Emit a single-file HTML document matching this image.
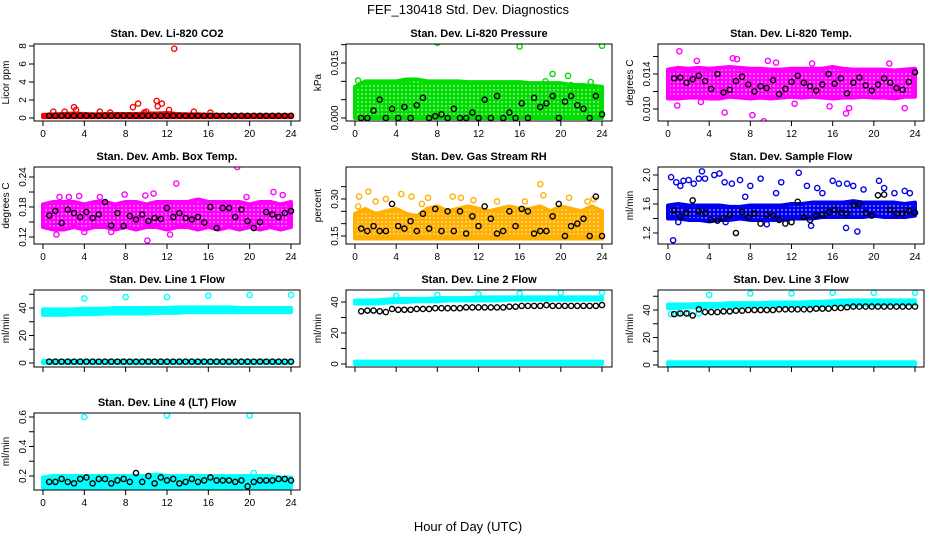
<!DOCTYPE html>
<html><head><meta charset="utf-8"><style>
body{margin:0;background:#fff}
svg{display:block;font-family:"Liberation Sans",Arial,sans-serif}
</style></head><body>
<svg id="chart" width="936" height="540" viewBox="0 0 936 540">
<text x="468" y="14" text-anchor="middle" font-size="13">FEF_130418  Std. Dev. Diagnostics</text>
<text x="468" y="531" text-anchor="middle" font-size="13">Hour of Day (UTC)</text>
</svg>
<script>
const hours=[0,1,2,3,4,5,6,7,8,9,10,11,12,13,14,15,16,17,18,19,20,21,22,23,24];
const blackX=[0.6,1.2,1.8,2.4,3.0,3.6,4.2,4.8,5.4,6.0,6.6,7.2,7.8,8.4,9.0,9.6,10.2,10.8,11.4,12.0,12.6,13.2,13.8,14.4,15.0,15.6,16.2,16.8,17.4,18.0,18.6,19.2,19.8,20.4,21.0,21.6,22.2,22.8,23.4,24.0];
const xTicks=[0,4,8,12,16,20,24];

const co2Lo=[0.1,0.1,0.1,0.1,0.1,0.1,0.1,0.1,0.1,0.1,0.1,0.1,0.1,0.1,0.1,0.1,0.1,0.1,0.1,0.1,0.1,0.1,0.1,0.1,0.1];
const co2Hi=[0.35,0.4,0.45,0.5,0.45,0.4,0.45,0.45,0.45,0.45,0.5,0.5,0.55,0.45,0.4,0.4,0.35,0.35,0.3,0.3,0.3,0.3,0.3,0.3,0.3];
const co2Pts=[[12.7,7.7],[11,1.9],[11.5,1.6],[9.2,1.6],[11.1,1.3],[8.7,1.2],[3,1.2],[3.2,0.9],[1,0.7],[2.1,0.7],[5.5,0.7],[12.2,0.9],[16.2,0.6],[14.6,0.7],[10,0.7],[6.5,0.6],[9.8,0.6]];
const co2Black=[0.25,0.25,0.25,0.25,0.25,0.25,0.25,0.25,0.25,0.25,0.25,0.25,0.25,0.25,0.25,0.25,0.25,0.25,0.25,0.25,0.25,0.25,0.25,0.25,0.25,0.25,0.25,0.25,0.25,0.25,0.25,0.25,0.25,0.25,0.25,0.25,0.25,0.25,0.25,0.25];

const presLo=[0,0,0,0,0,0,0,0,0,0,0,0,0,0,0,0,0,0,0,0,0,0,0,0,0];
const presHi=[0.0085,0.010,0.010,0.010,0.010,0.0105,0.0105,0.010,0.010,0.010,0.010,0.0098,0.0098,0.0098,0.0098,0.0098,0.0098,0.0095,0.0095,0.0095,0.0095,0.009,0.009,0.0088,0.0085];
const presPts=[[8,0.0205],[16,0.0195],[24,0.0197],[19.2,0.012],[20.7,0.0115],[0.3,0.0102],[5.2,0.0102],[22.9,0.0098],[18.5,0.0100],[21,0.0090]];
const presBlack=[0,0,0.002,0.005,0,0.0025,0,0.003,0,0.0035,0.0055,0,0.0005,0.001,0,0.0025,0,0,0.0015,0,0.005,0,0.006,0,0.0015,0,0.004,0,0.0055,0.003,0.004,0.006,0,0.0045,0.006,0.0035,0.0025,0,0.006,0.001];

const tempLo=[0.0112,0.0112,0.0113,0.0113,0.0112,0.0112,0.0114,0.0113,0.0112,0.0113,0.0112,0.0113,0.0114,0.0113,0.0114,0.0113,0.0112,0.0113,0.0113,0.0114,0.0113,0.0113,0.0112,0.0114,0.0114];
const tempHi=[0.0145,0.0147,0.0146,0.0147,0.0146,0.0147,0.0148,0.0147,0.0146,0.0146,0.0145,0.0145,0.0146,0.0146,0.0146,0.0146,0.0148,0.0146,0.0145,0.0145,0.0145,0.0145,0.0144,0.0145,0.0146];
const tempPts=[[1.1,0.0166],[6.7,0.0157],[9.7,0.0155],[10.5,0.0153],[0.9,0.0104],[5.5,0.0096],[8.2,0.0093],[9.3,0.0086],[17.3,0.0095],[23,0.0101],[6.3,0.0158],[14,0.0152],[21.5,0.0152],[2.8,0.0155],[17.6,0.0101],[3.2,0.0108],[12.3,0.0106],[15.7,0.0103]];
const tempBlack=[0.0135,0.0136,0.0130,0.0134,0.0138,0.0132,0.0123,0.0140,0.0119,0.0122,0.0132,0.0137,0.0128,0.0120,0.0126,0.0124,0.0133,0.0117,0.0123,0.0131,0.0138,0.0130,0.0126,0.0121,0.0128,0.0140,0.0129,0.0135,0.0118,0.0130,0.0136,0.0127,0.0121,0.0128,0.0135,0.0130,0.0124,0.0122,0.0131,0.0142];

const ambLo=[0.14,0.135,0.135,0.14,0.135,0.14,0.14,0.135,0.14,0.135,0.14,0.14,0.135,0.14,0.14,0.135,0.14,0.135,0.14,0.135,0.14,0.135,0.14,0.135,0.14];
const ambHi=[0.185,0.19,0.19,0.19,0.185,0.19,0.19,0.185,0.19,0.19,0.185,0.19,0.19,0.19,0.19,0.195,0.19,0.19,0.19,0.19,0.185,0.19,0.19,0.185,0.19];
const ambPts=[[18.8,0.26],[12.9,0.227],[10.1,0.113],[1.6,0.2],[2.5,0.2],[7.9,0.205],[10.7,0.207],[22.3,0.21],[1.3,0.125],[5.5,0.2],[4,0.13],[3.5,0.202],[9.9,0.203],[19.7,0.2],[23.2,0.204],[12.3,0.125],[6.6,0.13]];
const ambBlack=[0.163,0.172,0.148,0.175,0.168,0.160,0.170,0.158,0.165,0.190,0.143,0.168,0.142,0.162,0.155,0.165,0.152,0.158,0.156,0.178,0.160,0.168,0.158,0.155,0.160,0.149,0.180,0.138,0.178,0.178,0.160,0.175,0.152,0.138,0.150,0.170,0.165,0.160,0.168,0.172];

const rhLo=[0.14,0.14,0.14,0.14,0.14,0.14,0.14,0.14,0.14,0.14,0.14,0.14,0.14,0.14,0.14,0.14,0.14,0.14,0.14,0.14,0.14,0.14,0.14,0.14,0.14];
const rhHi=[0.24,0.26,0.24,0.25,0.26,0.24,0.23,0.26,0.27,0.25,0.26,0.27,0.26,0.25,0.26,0.27,0.26,0.26,0.27,0.25,0.27,0.26,0.25,0.27,0.25];
const rhPts=[[18,0.36],[1.3,0.33],[0.4,0.31],[4.5,0.32],[5.5,0.31],[9.5,0.31],[18.3,0.315],[20.8,0.305],[23.2,0.30],[7.1,0.305],[3,0.30],[2,0.29],[10.3,0.305],[11.5,0.295],[16.5,0.29],[13.8,0.29],[0.3,0.27],[6.5,0.28],[22.6,0.29]];
const rhBlack=[0.18,0.17,0.19,0.17,0.17,0.28,0.19,0.18,0.21,0.17,0.24,0.18,0.26,0.17,0.25,0.17,0.25,0.16,0.23,0.19,0.27,0.22,0.16,0.17,0.25,0.19,0.26,0.25,0.16,0.17,0.17,0.23,0.28,0.15,0.19,0.20,0.22,0.15,0.31,0.15];

const flowLo=[1.40,1.40,1.38,1.38,1.36,1.38,1.38,1.40,1.38,1.38,1.38,1.38,1.40,1.40,1.40,1.42,1.42,1.42,1.42,1.42,1.44,1.42,1.42,1.42,1.44];
const flowHi=[1.58,1.60,1.58,1.58,1.58,1.58,1.56,1.56,1.58,1.58,1.58,1.58,1.60,1.60,1.62,1.62,1.62,1.62,1.64,1.62,1.62,1.62,1.62,1.60,1.62];
const flowPts=[[0.3,1.97],[0.5,1.1],[0.8,1.9],[1.2,1.85],[1.5,1.92],[2.0,1.93],[2.5,1.88],[3.0,1.95],[3.3,2.05],[3.6,1.95],[4.5,2.0],[5.0,2.02],[5.5,1.9],[6.2,1.88],[7.0,1.93],[8.0,1.85],[9.0,1.95],[10.5,1.75],[11.0,1.9],[12.7,2.03],[13.5,1.85],[14.5,1.82],[16.0,1.92],[16.6,1.88],[17.4,1.88],[18.0,1.85],[18.4,1.22],[19.0,1.8],[20.5,1.92],[21.0,1.82],[22.0,1.75],[23.0,1.78],[23.5,1.75],[13.9,1.3],[17.3,1.27],[9.6,1.32],[5.6,1.35],[1.0,1.35],[7.5,1.7],[15.0,1.75]];
const flowBlack=[1.51,1.43,1.48,1.65,1.50,1.48,1.38,1.37,1.40,1.45,1.20,1.49,1.42,1.47,1.33,1.45,1.44,1.38,1.33,1.35,1.63,1.42,1.38,1.44,1.45,1.49,1.52,1.48,1.47,1.59,1.60,1.48,1.44,1.72,1.73,1.52,1.47,1.47,1.50,1.48];

const l1Lo=[35,35,35,35.5,35.5,35.5,36,36,36,36,36,36.5,36.5,36.5,37,37,37,37,37,37,37,37,37,37,37];
const l1Hi=[39,39,39,39,39.5,39.5,39.5,40,40,40,40,40,40,40.5,40.5,40.5,40.5,40.5,40.5,40,40,40,40,40,40];
const l1Lo2=[0,0,0,0,0,0,0,0,0,0,0,0,0,0,0,0,0,0,0,0,0,0,0,0,0];
const l1Hi2=[1.5,1.5,1.5,1.5,1.5,1.5,1.5,1.5,1.5,1.5,1.5,1.5,1.5,1.5,1.5,1.5,1.5,1.5,1.5,1.5,1.5,1.5,1.5,1.5,1.5];
const l1Pts=[[4,47],[8,48],[12,48],[16,49],[20,49.5],[24,49.5]];
const l1Black=[1,1,1,1,1,1,1,1,1,1,1,1,1,1,1,1,1,1,1,1,1,1,1,1,1,1,1,1,1,1,1,1,1,1,1,1,1,1,1,1];

const l2Lo=[39,39,39,39.5,40,40,40.5,40.5,40.5,41,41,41,41,41,41,41.5,41.5,41.5,41.5,41.5,41.5,41.5,41.5,41.5,41.5];
const l2Hi=[41,41,41,41.5,42,42,42,42,42.5,42.5,42.5,42.5,43,43,43,43,43,43,43,43,43,43,43,43,43];
const l2Lo2=[0,0,0,0,0,0,0,0,0,0,0,0,0,0,0,0,0,0,0,0,0,0,0,0,0];
const l2Hi2=[1.5,1.5,1.5,1.5,1.5,1.5,1.5,1.5,1.5,1.5,1.5,1.5,1.5,1.5,1.5,1.5,1.5,1.5,1.5,1.5,1.5,1.5,1.5,1.5,1.5];
const l2Pts=[[4,44],[8,44.5],[12,45],[16,45.5],[20,46],[24,46]];
const l2Black=[34,34.5,34.5,34,33.5,35.5,35,35,35,35.5,35.5,35.5,36,36,36,36,36,36.5,36.5,36.5,36.5,36.5,36.5,36.5,37,37,37.5,37.5,37.5,37.5,38,37.5,37.5,37.5,37.5,37.5,37.5,37.5,37.5,38];

const l3Lo=[41.5,41.5,42,42,42,42.5,42.5,42.5,43,43,43,43,43,43.5,43.5,43.5,44,44,44,44,44,44.5,44.5,44.5,44.5];
const l3Hi=[44,44,44,44.5,44.5,44.5,45,45,45,45,45.5,45.5,45.5,45.5,46,46,46.5,47,47,47,47,47,47,47,47];
const l3Lo2=[0,0,0,0,0,0,0,0,0,0,0,0,0,0,0,0,0,0,0,0,0,0,0,0,0];
const l3Hi2=[2,2,2,2,2,2,2,2,2,2,2,2,2,2,2,2,2,2,2,2,2,2,2,2,2];
const l3Pts=[[4,51],[8,52],[12,52],[16,52.5],[20,52.5],[24,52.5],[0.3,37],[1,37.5],[2,37.5],[3,37.5]];
const l3Black=[37,37.5,37.5,36,40.5,38.5,38.5,38.5,39,39,39.5,39.5,40,40,40,40,40,40.5,40.5,40.5,40.5,40.5,40.5,41,41,41,41.5,41.5,42,42.5,42.5,42.5,42.5,42.5,42.5,42.5,42.5,42.5,42.5,42.5];

const l4Lo=[0.12,0.12,0.12,0.12,0.12,0.12,0.12,0.12,0.12,0.12,0.12,0.12,0.12,0.12,0.12,0.12,0.12,0.12,0.12,0.12,0.12,0.12,0.12,0.12,0.12];
const l4Hi=[0.19,0.2,0.2,0.2,0.2,0.2,0.2,0.2,0.2,0.2,0.2,0.21,0.2,0.2,0.2,0.2,0.2,0.2,0.2,0.2,0.2,0.2,0.2,0.19,0.19];
const l4Pts=[[4,0.6],[12,0.61],[20,0.61],[20.4,0.22]];
const l4Black=[0.16,0.16,0.18,0.16,0.15,0.18,0.19,0.15,0.18,0.18,0.15,0.17,0.18,0.16,0.22,0.16,0.20,0.15,0.19,0.17,0.18,0.15,0.16,0.18,0.16,0.17,0.19,0.17,0.17,0.17,0.16,0.17,0.13,0.16,0.17,0.17,0.17,0.18,0.18,0.17];

const NS="http://www.w3.org/2000/svg";
const svg=document.getElementById('chart');
function mk(tag,attrs,parent){const e=document.createElementNS(NS,tag);for(const k in attrs)e.setAttribute(k,attrs[k]);(parent||svg).appendChild(e);return e;}
const defs=mk('defs',{});
const colBox=[[34,300,43,291],[346,612,355,602],[658,924,668,915]];
const rowBox=[[44,121],[167,244],[290,367],[413,490]];
const panels=[
{id:'co2',title:'Stan. Dev. Li-820 CO2',ylab:'Licor ppm',c:0,r:0,an:[0,118,8,46],ticks:[0,2,4,6,8],labs:['0','2','4','6','8'],color:'#ff0000',tex:true,bands:[[co2Lo,co2Hi]],pts:co2Pts,black:co2Black},
{id:'pressure',title:'Stan. Dev. Li-820 Pressure',ylab:'kPa',c:1,r:0,an:[0,118,0.015,63],ticks:[0,0.005,0.01,0.015,0.02],labs:['0.000','','','0.015',''],color:'#00dd00',tex:true,bands:[[presLo,presHi]],pts:presPts,black:presBlack},
{id:'temp',title:'Stan. Dev. Li-820 Temp.',ylab:'degrees C',c:2,r:0,an:[0.010,109,0.014,74],ticks:[0.010,0.012,0.014,0.016],labs:['0.010','','0.014',''],color:'#ff00ff',tex:true,bands:[[tempLo,tempHi]],pts:tempPts,black:tempBlack},
{id:'amb-box-temp',title:'Stan. Dev. Amb. Box Temp.',ylab:'degrees C',c:0,r:1,an:[0.12,237,0.24,177],ticks:[0.12,0.15,0.18,0.21,0.24],labs:['0.12','','0.18','','0.24'],color:'#ff00ff',tex:true,bands:[[ambLo,ambHi]],pts:ambPts,black:ambBlack},
{id:'gas-rh',title:'Stan. Dev. Gas Stream RH',ylab:'percent',c:1,r:1,an:[0.15,236,0.30,199],ticks:[0.15,0.20,0.25,0.30,0.35],labs:['0.15','','','0.30',''],color:'#ffb000',tex:true,bands:[[rhLo,rhHi]],pts:rhPts,black:rhBlack},
{id:'sample-flow',title:'Stan. Dev. Sample Flow',ylab:'ml/min',c:2,r:1,an:[1.2,233,2.0,175],ticks:[1.2,1.4,1.6,1.8,2.0],labs:['1.2','','1.6','','2.0'],color:'#0000ee',tex:true,bands:[[flowLo,flowHi]],pts:flowPts,black:flowBlack},
{id:'line1-flow',title:'Stan. Dev. Line 1 Flow',ylab:'ml/min',c:0,r:2,an:[0,363,40,308],ticks:[0,10,20,30,40,50],labs:['0','','20','','40',''],color:'#00ffff',tex:false,bands:[[l1Lo,l1Hi],[l1Lo2,l1Hi2]],pts:l1Pts,black:l1Black},
{id:'line2-flow',title:'Stan. Dev. Line 2 Flow',ylab:'ml/min',c:1,r:2,an:[0,364,40,302],ticks:[0,10,20,30,40],labs:['0','','20','','40'],color:'#00ffff',tex:false,bands:[[l2Lo,l2Hi],[l2Lo2,l2Hi2]],pts:l2Pts,black:l2Black},
{id:'line3-flow',title:'Stan. Dev. Line 3 Flow',ylab:'ml/min',c:2,r:2,an:[0,365,40,310],ticks:[0,10,20,30,40,50],labs:['0','','20','','40',''],color:'#00ffff',tex:false,bands:[[l3Lo,l3Hi],[l3Lo2,l3Hi2]],pts:l3Pts,black:l3Black},
{id:'line4-flow',title:'Stan. Dev. Line 4 (LT) Flow',ylab:'ml/min',c:0,r:3,an:[0.2,476,0.6,417],ticks:[0.2,0.3,0.4,0.5,0.6],labs:['0.2','','0.4','','0.6'],color:'#00ffff',tex:false,bands:[[l4Lo,l4Hi]],pts:l4Pts,black:l4Black}
];
panels.forEach(p=>{
  const [bl,br,x0,x24]=colBox[p.c];const [bt,bb]=rowBox[p.r];
  const xs=v=>x0+(x24-x0)*v/24;
  const ys=v=>p.an[1]+(v-p.an[0])*(p.an[3]-p.an[1])/(p.an[2]-p.an[0]);
  let fill=p.color;
  if(p.tex){
    const pat=mk('pattern',{id:'pat-'+p.id,width:4,height:4,patternUnits:'userSpaceOnUse'},defs);
    mk('rect',{x:0,y:0,width:4,height:4,fill:p.color},pat);
    mk('circle',{cx:2,cy:2,r:0.7,fill:'#fff'},pat);
    fill='url(#pat-'+p.id+')';
  }
  const g=mk('g',{});
  
  
  const t=mk('text',{x:(bl+br)/2,y:bt-7,'text-anchor':'middle','font-size':11,'font-weight':'bold'},g);
  t.textContent=p.title;
  
  
  const cx=bl-25,cy=(bt+bb)/2;
  const yl=mk('text',{x:cx,y:cy,'text-anchor':'middle','font-size':10,transform:`rotate(-90 ${cx} ${cy})`},g);
  yl.textContent=p.ylab;
  
  
  const clip='clip-'+p.id;
  const cp=mk('clipPath',{id:clip},g);mk('rect',{x:bl,y:bt,width:br-bl,height:bb-bt},cp);
  const pg=mk('g',{'clip-path':`url(#${clip})`},g);
  p.bands.forEach((b,bi)=>{
    let d='M'+hours.map((h,i)=>xs(h)+','+ys(b[1][i])).join(' L');
    d+=' L'+hours.slice().reverse().map((h,i)=>xs(h)+','+ys(b[0][hours.length-1-i])).join(' L')+'Z';
    const a=mk('path',{d:d,fill:fill,stroke:p.color,'stroke-width':4,'stroke-linejoin':'round'},pg);
    
    
  });
  p.pts.forEach(pt=>{
    const c=mk('circle',{cx:xs(pt[0]),cy:ys(pt[1]),r:2.6,fill:'none',stroke:p.color,'stroke-width':1.4},pg);
    
    
  });
  p.black.forEach((v,i)=>{
    const c=mk('circle',{cx:xs(blackX[i]),cy:ys(v),r:2.6,fill:'none',stroke:'#000','stroke-width':1.4},pg);
    
    
  });
  const box=mk('rect',{x:bl,y:bt,width:br-bl,height:bb-bt,fill:'none',stroke:'#000','stroke-width':1},g);
  
  
  xTicks.forEach(v=>{
    mk('line',{x1:xs(v),x2:xs(v),y1:bb,y2:bb+5,stroke:'#000'},g);
    if(p.r!==2){const tl=mk('text',{x:xs(v),y:bb+16,'text-anchor':'middle','font-size':10},g);tl.textContent=v;
    
    }
  });
  mk('line',{x1:x0,x2:x24,y1:bb,y2:bb,stroke:'#000'},g);
  p.ticks.forEach((v,i)=>{
    const y=ys(v);
    mk('line',{x1:bl-5,x2:bl,y1:y,y2:y,stroke:'#000'},g);
    if(p.labs[i]){const tx=bl-8;const tl=mk('text',{x:tx,y:y,'text-anchor':'middle','font-size':10,transform:`rotate(-90 ${tx} ${y})`},g);tl.textContent=p.labs[i];
    
    }
  });
});
</script>
</body></html>
